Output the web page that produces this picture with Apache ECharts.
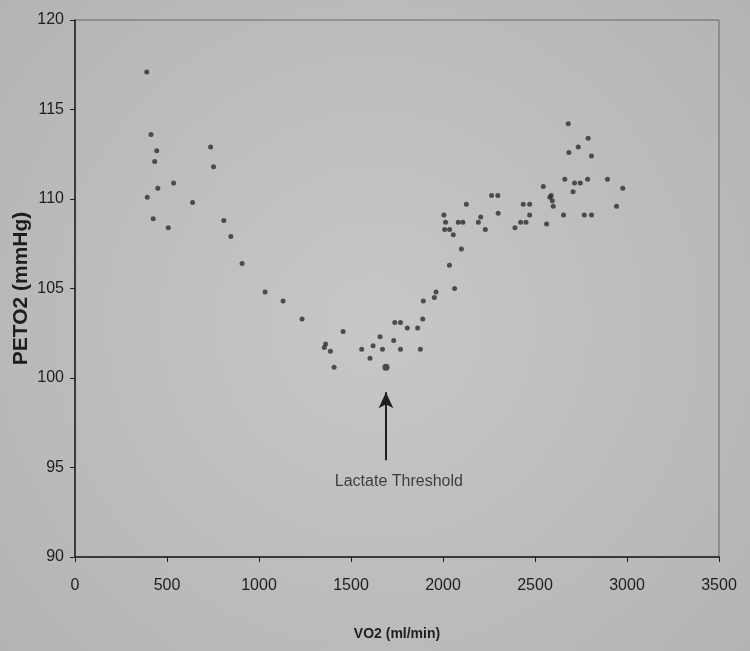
<!DOCTYPE html>
<html>
<head>
<meta charset="utf-8">
<script src="https://cdn.jsdelivr.net/npm/echarts@6/dist/echarts.min.js"></script>
<style>html,body{margin:0;padding:0;}#c{width:750px;height:651px;}</style>
</head>
<body>
<div id="c"></div>
<script>
const xTicks = [0, 500, 1000, 1500, 2000, 2500, 3000, 3500];
const yTicks = [90, 95, 100, 105, 110, 115, 120];
const vo2 = [390,413,444,433,450,393,425,507,536,639,737,753,809,847,908,1033,1131,1234,
  1355,1362,1388,1408,1457,1558,1603,1620,1658,1671,1732,1738,1769,1769,1806,1862,1877,1890,1893,
  1953,1962,2035,2063,2100,2005,2014,2009,2036,2056,2083,2108,2127,2192,2205,2230,2264,2298,2300,
  2391,2422,2451,2436,2471,2471,2545,2563,2581,2594,2599,2588,2655,2662,2681,2684,2707,2715,2746,
  2735,2768,2807,2786,2789,2807,2894,2943,2977];
const peto2 = [117.1,113.6,112.7,112.1,110.6,110.1,108.9,108.4,110.9,109.8,112.9,111.8,108.8,107.9,106.4,104.8,104.3,103.3,
  101.7,101.9,101.5,100.6,102.6,101.6,101.1,101.8,102.3,101.6,102.1,103.1,103.1,101.6,102.8,102.8,101.6,103.3,104.3,
  104.5,104.8,106.3,105.0,107.2,109.1,108.7,108.3,108.3,108.0,108.7,108.7,109.7,108.7,109.0,108.3,110.2,110.2,109.2,
  108.4,108.7,108.7,109.7,109.7,109.1,110.7,108.6,110.1,109.9,109.6,110.2,109.1,111.1,114.2,112.6,110.4,110.9,110.9,
  112.9,109.1,109.1,111.1,113.4,112.4,111.1,109.6,110.6];
const lactateThreshold = [1690, 100.6];
const arrowFrom = [1690, 95.4];
const arrowTo = [1690, 99.2];
const annotationPos = [1760, 94.2];
const annotationText = 'Lactate Threshold';

const pts = vo2.map((v, i) => [v, peto2[i]]);
const font = '"Liberation Sans", Arial, sans-serif';
const chart = echarts.init(document.getElementById('c'));
chart.setOption({
  animation: false,
  backgroundColor: {type: 'radial', x: 0.5, y: 0.5, r: 0.75,
    colorStops: [{offset: 0, color: '#c7c7c7'}, {offset: 1, color: '#b4b4b4'}]},
  grid: {left: 75, right: 31, top: 20, bottom: 94, outerBoundsMode: 'none', containLabel: false,
    show: true, borderColor: '#666', borderWidth: 1, backgroundColor: 'transparent'},
  xAxis: {
    type: 'value', min: 0, max: 3500, interval: 500,
    name: 'VO2 (ml/min)', nameLocation: 'middle', nameGap: 70,
    nameTextStyle: {fontFamily: font, fontWeight: 'bold', fontSize: 14, color: '#1e1e1e'},
    axisLine: {lineStyle: {color: '#1e1e1e', width: 1.5}},
    axisTick: {show: true, length: 5, lineStyle: {color: '#1e1e1e'}},
    axisLabel: {fontFamily: font, fontSize: 16, color: '#1e1e1e', margin: 21,
      formatter: v => xTicks.includes(v) ? String(v) : ''},
    splitLine: {show: false}
  },
  yAxis: {
    type: 'value', min: 90, max: 120, interval: 5,
    name: 'PETO2 (mmHg)', nameLocation: 'middle', nameGap: 43, nameRotate: 90, nameMoveOverlap: false,
    nameTextStyle: {fontFamily: font, fontWeight: 'bold', fontSize: 21, color: '#1e1e1e'},
    axisLine: {show: true, lineStyle: {color: '#1e1e1e', width: 1.5}},
    axisTick: {show: true, length: 5, lineStyle: {color: '#1e1e1e'}},
    axisLabel: {fontFamily: font, fontSize: 16, color: '#1e1e1e', margin: 11,
      formatter: v => yTicks.includes(v) ? String(v) : ''},
    splitLine: {show: false}
  },
  series: [
    {type: 'scatter', data: pts, symbolSize: 5, itemStyle: {color: '#2e2e2e'}, silent: true},
    {type: 'scatter', data: [lactateThreshold], symbolSize: 7, itemStyle: {color: '#2a2a2a'}, silent: true,
      markLine: {silent: true, symbol: ['none', 'arrow'], symbolSize: [11, 16],
        lineStyle: {color: '#1e1e1e', width: 2, type: 'solid'}, label: {show: false},
        data: [[{coord: arrowFrom}, {coord: arrowTo}]]}},
    {type: 'scatter', data: [annotationPos], symbolSize: 0, silent: true,
      label: {show: true, position: 'inside', formatter: annotationText,
        fontFamily: font, fontSize: 16, color: '#1a1a1a'}}
  ]
});
</script>
</body>
</html>
